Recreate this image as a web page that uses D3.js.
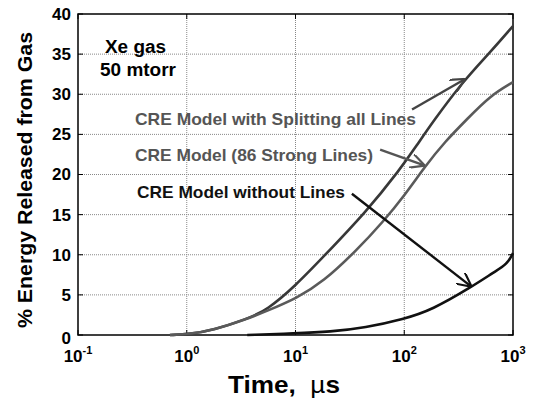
<!DOCTYPE html>
<html>
<head>
<meta charset="utf-8">
<script src="https://cdn.jsdelivr.net/npm/d3@7"></script>
<style>
  body { margin: 0; background: #fff; }
  svg { display: block; }
  text { font-family: "Liberation Sans", Arial, sans-serif; font-weight: bold; }
</style>
</head>
<body>
<div id="chart"></div>
<script>
// values
var splitTime = [0.7, 1.07, 1.74, 3.58, 5.47, 10.1, 17.9, 45, 91, 130, 184, 347, 615, 1000]
var splitVal = [0, 0.12, 0.6, 2.0, 3.1, 6.2, 9.7, 15.4, 20.6, 23.6, 26.6, 31.6, 35.2, 38.5]

var strongTime = [0.7, 1.07, 1.74, 3.58, 5.47, 10.3, 17.9, 36.8, 63.8, 102, 155, 237, 378, 615, 1000]
var strongVal = [0, 0.12, 0.6, 2.0, 3.0, 4.6, 6.6, 10.6, 14.1, 17.5, 21.0, 24.1, 26.9, 29.8, 31.5]

var noLinesTime = [3.6, 10, 20.8, 43.6, 100, 178, 417, 680, 880, 1000]
var noLinesVal = [0, 0.2, 0.4, 0.9, 2.0, 3.1, 6.0, 7.9, 8.8, 10.2]

var yTicks = [0, 5, 10, 15, 20, 25, 30, 35, 40]
var xTicks = [0.1, 1, 10, 100, 1000]
var xExponents = ['-1', '0', '1', '2', '3']

// annotation arrows [fromTime, fromVal, toTime, toVal]
var arrows = [
  [118, 28.1, 363, 31.9],
  [60, 23.1, 155, 21.1],
  [33, 17.6, 417, 6.0]
]

var margin = { top: 14, right: 22, bottom: 63, left: 78 }
var width = 535 - margin.left - margin.right,
  height = 398 - margin.top - margin.bottom

var svg = d3
  .select('#chart')
  .append('svg')
  .attr('width', 535)
  .attr('height', 398)

var g = svg
  .append('g')
  .attr('transform', 'translate(' + margin.left + ',' + margin.top + ')')

var x = d3.scaleLog().domain([0.1, 1000]).range([0, width])
var y = d3.scaleLinear().domain([0, 40]).range([height, 0])

// grid
g.selectAll('.gx')
  .data(xTicks.slice(1, -1))
  .enter()
  .append('line')
  .attr('x1', d => x(d))
  .attr('x2', d => x(d))
  .attr('y1', 0)
  .attr('y2', height)
  .attr('stroke', '#888')
  .attr('stroke-width', 1)
  .attr('stroke-dasharray', '1,1')

g.selectAll('.gy')
  .data(yTicks.slice(1, -1))
  .enter()
  .append('line')
  .attr('x1', 0)
  .attr('x2', width)
  .attr('y1', d => y(d))
  .attr('y2', d => y(d))
  .attr('stroke', '#888')
  .attr('stroke-width', 1)
  .attr('stroke-dasharray', '1,1')

// inward ticks on all four sides
var tl = 5
yTicks.forEach(function (v) {
  g.append('line').attr('x1', 0).attr('x2', tl).attr('y1', y(v)).attr('y2', y(v)).attr('stroke', '#000')
  g.append('line').attr('x1', width - tl).attr('x2', width).attr('y1', y(v)).attr('y2', y(v)).attr('stroke', '#000')
})
xTicks.forEach(function (v) {
  g.append('line').attr('x1', x(v)).attr('x2', x(v)).attr('y1', height).attr('y2', height - tl).attr('stroke', '#000')
  g.append('line').attr('x1', x(v)).attr('x2', x(v)).attr('y1', 0).attr('y2', tl).attr('stroke', '#000')
})

// frame
g.append('rect')
  .attr('width', width)
  .attr('height', height)
  .attr('fill', 'none')
  .attr('stroke', '#000')
  .attr('stroke-width', 1.5)

// tick labels
g.selectAll('.yl')
  .data(yTicks)
  .enter()
  .append('text')
  .attr('x', -7)
  .attr('y', d => y(d))
  .attr('dy', d => (d === 0 ? '0.5em' : '0.35em'))
  .attr('text-anchor', 'end')
  .attr('font-size', 17)
  .text(d => d)

var xl = g.selectAll('.xl')
  .data(xTicks)
  .enter()
  .append('text')
  .attr('x', d => x(d))
  .attr('y', height + 27)
  .attr('text-anchor', 'middle')
  .attr('font-size', 17)
xl.append('tspan').text('10')
xl.append('tspan')
  .attr('font-size', 11)
  .attr('dy', -8)
  .text((d, i) => xExponents[i])

// axis titles
var xt = svg.append('text')
  .attr('x', 284)
  .attr('y', 393)
  .attr('text-anchor', 'middle')
  .attr('font-size', 24)
  .attr('textLength', 112)
  .attr('lengthAdjust', 'spacingAndGlyphs')
xt.append('tspan').text('Time,\u00a0\u00a0')
xt.append('tspan').attr('font-weight', 'normal').text('\u00b5')
xt.append('tspan').text('s')

svg.append('text')
  .attr('transform', 'translate(32,180) rotate(-90)')
  .attr('text-anchor', 'middle')
  .attr('font-size', 20)
  .attr('textLength', 296)
  .attr('lengthAdjust', 'spacingAndGlyphs')
  .text('% Energy Released from Gas')

// curves
var line = d3
  .line()
  .x(d => x(d[0]))
  .y(d => y(d[1]))
  .curve(d3.curveBasis)

var series = [
  [splitTime, splitVal, '#383838'],
  [strongTime, strongVal, '#5a5a5a'],
  [noLinesTime, noLinesVal, '#111']
]
series.forEach(function (s) {
  g.append('path')
    .datum(s[0].map((t, i) => [t, s[1][i]]))
    .attr('fill', 'none')
    .attr('stroke', s[2])
    .attr('stroke-width', 2.6)
    .attr('d', line)
})

// arrows
var arrowColors = ['#444', '#555', '#111']
svg.append('defs')
  .selectAll('marker')
  .data(arrowColors)
  .enter()
  .append('marker')
  .attr('id', (d, i) => 'ah' + i)
  .attr('viewBox', '0 0 10 10')
  .attr('refX', 10)
  .attr('refY', 5)
  .attr('markerWidth', 6)
  .attr('markerHeight', 6)
  .attr('markerUnits', 'strokeWidth')
  .attr('orient', 'auto')
  .append('path')
  .attr('d', 'M0,0 L10,5 L0,10')
  .attr('fill', 'none')
  .attr('stroke', d => d)
  .attr('stroke-width', 1.5)

arrows.forEach(function (a, i) {
  g.append('line')
    .attr('x1', x(a[0]))
    .attr('y1', y(a[1]))
    .attr('x2', x(a[2]))
    .attr('y2', y(a[3]))
    .attr('stroke', arrowColors[i])
    .attr('stroke-width', 2.4)
    .attr('marker-end', 'url(#ah' + i + ')')
})

// annotations
var notes = [
  ['Xe gas', 105, 53, 18, 61, '#000'],
  ['50 mtorr', 100, 76, 18, 76, '#000'],
  ['CRE Model with Splitting all Lines', 135, 125, 17, 281, '#555'],
  ['CRE Model (86 Strong Lines)', 135, 161, 17, 238, '#555'],
  ['CRE Model without Lines', 137, 198, 17, 208, '#111']
]
notes.forEach(function (n) {
  svg.append('text')
    .attr('x', n[1])
    .attr('y', n[2])
    .attr('font-size', n[3])
    .attr('textLength', n[4])
    .attr('lengthAdjust', 'spacingAndGlyphs')
    .attr('fill', n[5])
    .text(n[0])
})
</script>
</body>
</html>
